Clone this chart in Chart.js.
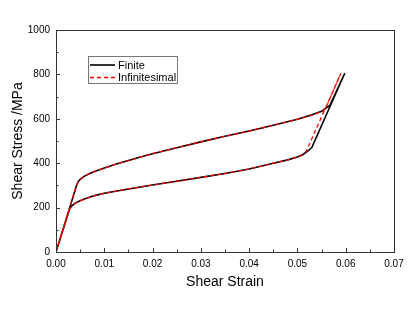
<!DOCTYPE html>
<html>
<head>
<meta charset="utf-8">
<script src="https://cdn.jsdelivr.net/npm/chart.js@4/dist/chart.umd.min.js"></script>
<style>
html,body{margin:0;padding:0;background:#fff;}
#wrap{width:415px;height:312px;}
</style>
</head>
<body>
<div id="wrap"><canvas id="c" width="415" height="312"></canvas></div>
<script>
// ---- data ----
const seriesNames = ['Finite', 'Infinitesimal'];
const finiteStrain = [0, 0.0043, 0.0047, 0.0052, 0.006, 0.007, 0.008, 0.01, 0.0125, 0.015, 0.0175, 0.02, 0.025, 0.03, 0.035, 0.04, 0.045, 0.05, 0.053, 0.055, 0.0567, 0.0598,
  0.053, 0.0522, 0.051, 0.05, 0.048, 0.045, 0.04, 0.035, 0.03, 0.025, 0.02, 0.015, 0.01, 0.008, 0.006, 0.005, 0.004, 0.0033, 0.0028, 0];
const finiteStress = [0, 303, 320, 331, 343, 354, 363, 378, 396, 412, 428, 443, 470, 496, 521, 545, 571, 598, 618, 634, 660, 805,
  472, 455, 437, 428, 415, 400, 374, 354, 336, 319, 302, 284, 265, 254, 240, 231, 220, 208, 193, 0];
const infStrain = [0, 0.0043, 0.0047, 0.0052, 0.006, 0.007, 0.008, 0.01, 0.0125, 0.015, 0.0175, 0.02, 0.025, 0.03, 0.035, 0.04, 0.045, 0.05, 0.053, 0.055, 0.0558, 0.059,
  0.0518, 0.051, 0.05, 0.048, 0.045, 0.04, 0.035, 0.03, 0.025, 0.02, 0.015, 0.01, 0.008, 0.006, 0.005, 0.004, 0.0033, 0.0028, 0];
const infStress = [0, 303, 320, 331, 343, 354, 363, 378, 396, 412, 428, 443, 470, 496, 521, 545, 571, 598, 616, 632, 645, 805,
  452, 439, 428, 415, 400, 374, 354, 336, 319, 302, 284, 265, 254, 240, 231, 220, 208, 193, 0];
const xTickValues = [0, 0.01, 0.02, 0.03, 0.04, 0.05, 0.06, 0.07];
const xTickLabels = ['0.00', '0.01', '0.02', '0.03', '0.04', '0.05', '0.06', '0.07'];
const yTickValues = [0, 200, 400, 600, 800, 1000];
const yTickLabels = ['0', '200', '400', '600', '800', '1000'];

const FONT = "'Liberation Sans', Arial, sans-serif";
const toPts = (xs, ys) => xs.map((x, i) => ({x: x, y: ys[i]}));

// inward ticks, minor ticks, frame and inset legend
const framePlugin = {
  id: 'frame',
  afterDraw(chart) {
    const ctx = chart.ctx, a = chart.chartArea;
    const xs = chart.scales.x, ys = chart.scales.y;
    ctx.save();
    ctx.strokeStyle = '#333';
    ctx.lineWidth = 1;
    ctx.beginPath();
    xs.ticks.forEach((t, i) => {
      const px = Math.round(xs.getPixelForValue(t.value)) + 0.5;
      ctx.moveTo(px, a.bottom); ctx.lineTo(px, a.bottom - 4);
      if (i < xs.ticks.length - 1) {
        const mv = (t.value + xs.ticks[i + 1].value) / 2;
        const pm = Math.round(xs.getPixelForValue(mv)) + 0.5;
        ctx.moveTo(pm, a.bottom); ctx.lineTo(pm, a.bottom - 2.5);
      }
    });
    ys.ticks.forEach((t, i) => {
      const py = Math.round(ys.getPixelForValue(t.value)) + 0.5;
      ctx.moveTo(a.left, py); ctx.lineTo(a.left + 4, py);
      if (i < ys.ticks.length - 1) {
        const mv = (t.value + ys.ticks[i + 1].value) / 2;
        const pm = Math.round(ys.getPixelForValue(mv)) + 0.5;
        ctx.moveTo(a.left, pm); ctx.lineTo(a.left + 2.5, pm);
      }
    });
    ctx.stroke();
    ctx.strokeRect(Math.round(a.left) + 0.5, Math.round(a.top) + 0.5, Math.round(a.right - a.left), Math.round(a.bottom - a.top));

    // legend
    const bx = 88.5, by = 56.5, bw = 89, bh = 27;
    ctx.strokeStyle = '#777';
    ctx.strokeRect(bx, by, bw, bh);
    ctx.font = '11px ' + FONT;
    ctx.textBaseline = 'middle';
    ctx.textAlign = 'left';
    chart.data.datasets.forEach((ds, i) => {
      const cy = 65 + i * 12.5;
      ctx.save();
      ctx.strokeStyle = ds.borderColor;
      ctx.lineWidth = ds.borderWidth;
      ctx.setLineDash(ds.borderDash || []);
      ctx.beginPath();
      ctx.moveTo(90, cy); ctx.lineTo(115, cy);
      ctx.stroke();
      ctx.restore();
      ctx.fillStyle = '#000';
      ctx.fillText(ds.label, 118, cy + 0.5);
    });
    ctx.restore();
  }
};

new Chart(document.getElementById('c'), {
  type: 'scatter',
  data: {
    datasets: [
      {label: seriesNames[0], data: toPts(finiteStrain, finiteStress), showLine: true, borderColor: '#000000', borderWidth: 1.6, pointRadius: 0, fill: false, tension: 0, order: 1},
      {label: seriesNames[1], data: toPts(infStrain, infStress), showLine: true, borderColor: '#ff0000', borderWidth: 1.3, borderDash: [4, 3], pointRadius: 0, fill: false, tension: 0, order: 0}
    ]
  },
  options: {
    responsive: false,
    animation: false,
    layout: {padding: {top: 30, right: 21, left: 0, bottom: 0}},
    plugins: {legend: {display: false}, tooltip: {enabled: false}},
    scales: {
      x: {
        type: 'linear', min: 0, max: 0.07,
        afterBuildTicks: s => { s.ticks = xTickValues.map(v => ({value: v})); },
        afterFit: s => { s.height = 60; },
        grid: {display: false, drawTicks: false},
        border: {display: false},
        ticks: {padding: 6, color: '#000', font: {family: FONT, size: 10}, maxRotation: 0,
          callback: (v, i) => xTickLabels[i]},
        title: {display: true, text: 'Shear Strain', color: '#000', font: {family: FONT, size: 14}, padding: {top: 0, bottom: 21}}
      },
      y: {
        type: 'linear', min: 0, max: 1000,
        afterBuildTicks: s => { s.ticks = yTickValues.map(v => ({value: v})); },
        afterFit: s => { s.width = 56; },
        grid: {display: false, drawTicks: false},
        border: {display: false},
        ticks: {padding: 6, color: '#000', font: {family: FONT, size: 10},
          callback: (v, i) => yTickLabels[i]},
        title: {display: true, text: 'Shear Stress /MPa', color: '#000', font: {family: FONT, size: 14}, padding: {top: 10, bottom: 0}}
      }
    }
  },
  plugins: [framePlugin]
});
</script>
</body>
</html>
